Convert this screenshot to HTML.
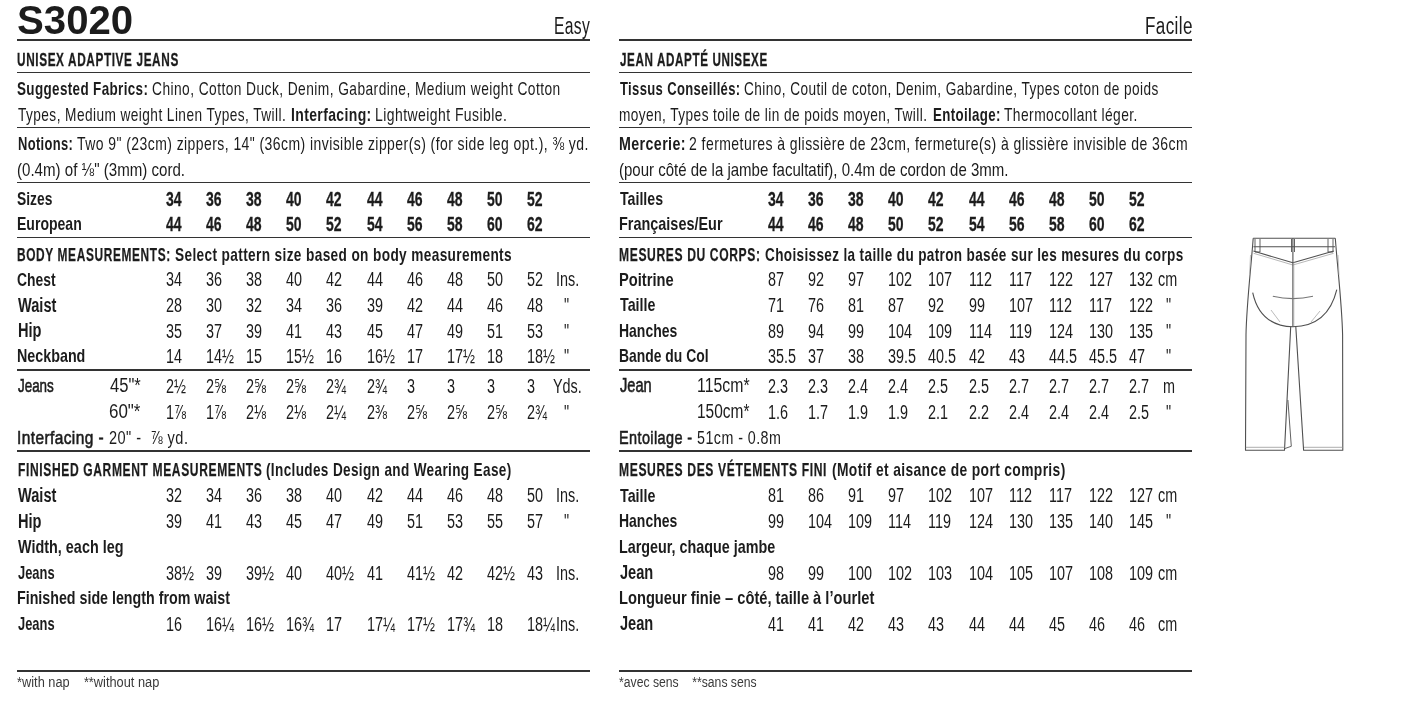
<!DOCTYPE html>
<html><head><meta charset="utf-8"><style>
html,body{margin:0;padding:0;background:#fff;}
body{width:1407px;height:705px;position:relative;overflow:hidden;}
#w{position:absolute;left:0;top:0;width:1407px;height:705px;will-change:transform;}
.t{position:absolute;white-space:pre;font-family:"Liberation Sans",sans-serif;color:#1c1c1c;transform-origin:0 0;}
.t b{font-weight:bold;}
.t .m{-webkit-text-stroke:0.6px currentColor;}
.l{position:absolute;}
.f{}
</style></head><body><div id="w">
<div class="l" style="left:17px;top:39.20px;width:573px;height:1.6px;background:#333"></div>
<div class="t" id="r0" style="left:17.38px;top:49.92px;font-size:19.0px;line-height:19.0px;transform:scaleX(0.6201);font-weight:bold;letter-spacing:1px;-webkit-text-stroke:0.3px currentColor;">UNISEX ADAPTIVE JEANS</div>
<div class="l" style="left:17px;top:71.50px;width:573px;height:1.6px;background:#333"></div>
<div class="t" id="r1" style="left:17.49px;top:78.92px;font-size:19.0px;line-height:19.0px;transform:scaleX(0.7082);font-weight:bold;letter-spacing:0.5px;">Suggested Fabrics:</div>
<div class="t" id="r2" style="left:152.08px;top:78.92px;font-size:19.0px;line-height:19.0px;transform:scaleX(0.7246);letter-spacing:0.6px;">Chino, Cotton Duck, Denim, Gabardine, Medium weight Cotton</div>
<div class="t" id="r3" style="left:18.00px;top:105.32px;font-size:19.0px;line-height:19.0px;transform:scaleX(0.7194);letter-spacing:0.6px;">Types, Medium weight Linen Types, Twill.</div>
<div class="t" id="r4" style="left:290.96px;top:105.32px;font-size:19.0px;line-height:19.0px;transform:scaleX(0.7368);font-weight:bold;letter-spacing:0.5px;">Interfacing:</div>
<div class="t" id="r5" style="left:375.06px;top:105.32px;font-size:19.0px;line-height:19.0px;transform:scaleX(0.7356);letter-spacing:0.6px;">Lightweight Fusible.</div>
<div class="l" style="left:17px;top:126.50px;width:573px;height:1.6px;background:#333"></div>
<div class="t" id="r6" style="left:17.52px;top:134.32px;font-size:19.0px;line-height:19.0px;transform:scaleX(0.6808);font-weight:bold;letter-spacing:0.5px;">Notions:</div>
<div class="t" id="r7" style="left:77.20px;top:134.32px;font-size:19.0px;line-height:19.0px;transform:scaleX(0.7352);letter-spacing:0.6px;">Two 9" (23cm) zippers, 14" (36cm) invisible zipper(s) (for side leg opt.), <span class="f">⅜</span> yd.</div>
<div class="t" id="r8" style="left:17.21px;top:160.22px;font-size:19.0px;line-height:19.0px;transform:scaleX(0.7943);">(0.4m) of <span class="f">⅛</span>" (3mm) cord.</div>
<div class="l" style="left:17px;top:181.70px;width:573px;height:1.6px;background:#333"></div>
<div class="t" id="r9" style="left:17.27px;top:188.92px;font-size:19.0px;line-height:19.0px;transform:scaleX(0.7277);font-weight:bold;">Sizes</div>
<div class="t" id="r10" style="left:166.00px;top:188.77px;font-size:20.0px;line-height:20.0px;transform:scaleX(0.7);font-weight:bold;-webkit-text-stroke:0.3px currentColor;">34</div>
<div class="t" id="r11" style="left:206.10px;top:188.77px;font-size:20.0px;line-height:20.0px;transform:scaleX(0.7);font-weight:bold;-webkit-text-stroke:0.3px currentColor;">36</div>
<div class="t" id="r12" style="left:246.20px;top:188.77px;font-size:20.0px;line-height:20.0px;transform:scaleX(0.7);font-weight:bold;-webkit-text-stroke:0.3px currentColor;">38</div>
<div class="t" id="r13" style="left:286.30px;top:188.77px;font-size:20.0px;line-height:20.0px;transform:scaleX(0.7);font-weight:bold;-webkit-text-stroke:0.3px currentColor;">40</div>
<div class="t" id="r14" style="left:326.40px;top:188.77px;font-size:20.0px;line-height:20.0px;transform:scaleX(0.7);font-weight:bold;-webkit-text-stroke:0.3px currentColor;">42</div>
<div class="t" id="r15" style="left:366.50px;top:188.77px;font-size:20.0px;line-height:20.0px;transform:scaleX(0.7);font-weight:bold;-webkit-text-stroke:0.3px currentColor;">44</div>
<div class="t" id="r16" style="left:406.60px;top:188.77px;font-size:20.0px;line-height:20.0px;transform:scaleX(0.7);font-weight:bold;-webkit-text-stroke:0.3px currentColor;">46</div>
<div class="t" id="r17" style="left:446.70px;top:188.77px;font-size:20.0px;line-height:20.0px;transform:scaleX(0.7);font-weight:bold;-webkit-text-stroke:0.3px currentColor;">48</div>
<div class="t" id="r18" style="left:486.80px;top:188.77px;font-size:20.0px;line-height:20.0px;transform:scaleX(0.7);font-weight:bold;-webkit-text-stroke:0.3px currentColor;">50</div>
<div class="t" id="r19" style="left:526.90px;top:188.77px;font-size:20.0px;line-height:20.0px;transform:scaleX(0.7);font-weight:bold;-webkit-text-stroke:0.3px currentColor;">52</div>
<div class="t" id="r20" style="left:17.26px;top:214.42px;font-size:19.0px;line-height:19.0px;transform:scaleX(0.7384);font-weight:bold;">European</div>
<div class="t" id="r21" style="left:166.00px;top:214.27px;font-size:20.0px;line-height:20.0px;transform:scaleX(0.7);font-weight:bold;-webkit-text-stroke:0.3px currentColor;">44</div>
<div class="t" id="r22" style="left:206.10px;top:214.27px;font-size:20.0px;line-height:20.0px;transform:scaleX(0.7);font-weight:bold;-webkit-text-stroke:0.3px currentColor;">46</div>
<div class="t" id="r23" style="left:246.20px;top:214.27px;font-size:20.0px;line-height:20.0px;transform:scaleX(0.7);font-weight:bold;-webkit-text-stroke:0.3px currentColor;">48</div>
<div class="t" id="r24" style="left:286.30px;top:214.27px;font-size:20.0px;line-height:20.0px;transform:scaleX(0.7);font-weight:bold;-webkit-text-stroke:0.3px currentColor;">50</div>
<div class="t" id="r25" style="left:326.40px;top:214.27px;font-size:20.0px;line-height:20.0px;transform:scaleX(0.7);font-weight:bold;-webkit-text-stroke:0.3px currentColor;">52</div>
<div class="t" id="r26" style="left:366.50px;top:214.27px;font-size:20.0px;line-height:20.0px;transform:scaleX(0.7);font-weight:bold;-webkit-text-stroke:0.3px currentColor;">54</div>
<div class="t" id="r27" style="left:406.60px;top:214.27px;font-size:20.0px;line-height:20.0px;transform:scaleX(0.7);font-weight:bold;-webkit-text-stroke:0.3px currentColor;">56</div>
<div class="t" id="r28" style="left:446.70px;top:214.27px;font-size:20.0px;line-height:20.0px;transform:scaleX(0.7);font-weight:bold;-webkit-text-stroke:0.3px currentColor;">58</div>
<div class="t" id="r29" style="left:486.80px;top:214.27px;font-size:20.0px;line-height:20.0px;transform:scaleX(0.7);font-weight:bold;-webkit-text-stroke:0.3px currentColor;">60</div>
<div class="t" id="r30" style="left:526.90px;top:214.27px;font-size:20.0px;line-height:20.0px;transform:scaleX(0.7);font-weight:bold;-webkit-text-stroke:0.3px currentColor;">62</div>
<div class="l" style="left:17px;top:236.70px;width:573px;height:1.6px;background:#333"></div>
<div class="t" id="r31" style="left:17.37px;top:244.82px;font-size:19.0px;line-height:19.0px;transform:scaleX(0.626);font-weight:bold;letter-spacing:1px;-webkit-text-stroke:0.25px currentColor;">BODY MEASUREMENTS:</div>
<div class="t" id="r32" style="left:175.18px;top:244.82px;font-size:19.0px;line-height:19.0px;transform:scaleX(0.7191);font-weight:bold;letter-spacing:0.5px;">Select pattern size based on body measurements</div>
<div class="t" id="r33" style="left:17.27px;top:269.52px;font-size:19.0px;line-height:19.0px;transform:scaleX(0.7308);font-weight:bold;">Chest</div>
<div class="t" id="r34" style="left:166.00px;top:269.37px;font-size:20.0px;line-height:20.0px;transform:scaleX(0.72);">34</div>
<div class="t" id="r35" style="left:206.10px;top:269.37px;font-size:20.0px;line-height:20.0px;transform:scaleX(0.72);">36</div>
<div class="t" id="r36" style="left:246.20px;top:269.37px;font-size:20.0px;line-height:20.0px;transform:scaleX(0.72);">38</div>
<div class="t" id="r37" style="left:286.30px;top:269.37px;font-size:20.0px;line-height:20.0px;transform:scaleX(0.72);">40</div>
<div class="t" id="r38" style="left:326.40px;top:269.37px;font-size:20.0px;line-height:20.0px;transform:scaleX(0.72);">42</div>
<div class="t" id="r39" style="left:366.50px;top:269.37px;font-size:20.0px;line-height:20.0px;transform:scaleX(0.72);">44</div>
<div class="t" id="r40" style="left:406.60px;top:269.37px;font-size:20.0px;line-height:20.0px;transform:scaleX(0.72);">46</div>
<div class="t" id="r41" style="left:446.70px;top:269.37px;font-size:20.0px;line-height:20.0px;transform:scaleX(0.72);">48</div>
<div class="t" id="r42" style="left:486.80px;top:269.37px;font-size:20.0px;line-height:20.0px;transform:scaleX(0.72);">50</div>
<div class="t" id="r43" style="left:526.90px;top:269.37px;font-size:20.0px;line-height:20.0px;transform:scaleX(0.72);">52</div>
<div class="t" id="r44" style="left:555.50px;top:269.37px;font-size:20.0px;line-height:20.0px;transform:scaleX(0.72);">Ins.</div>
<div class="t" id="r45" style="left:17.50px;top:294.57px;font-size:20.0px;line-height:20.0px;transform:scaleX(0.73);font-weight:bold;">Waist</div>
<div class="t" id="r46" style="left:166.00px;top:295.27px;font-size:20.0px;line-height:20.0px;transform:scaleX(0.72);">28</div>
<div class="t" id="r47" style="left:206.10px;top:295.27px;font-size:20.0px;line-height:20.0px;transform:scaleX(0.72);">30</div>
<div class="t" id="r48" style="left:246.20px;top:295.27px;font-size:20.0px;line-height:20.0px;transform:scaleX(0.72);">32</div>
<div class="t" id="r49" style="left:286.30px;top:295.27px;font-size:20.0px;line-height:20.0px;transform:scaleX(0.72);">34</div>
<div class="t" id="r50" style="left:326.40px;top:295.27px;font-size:20.0px;line-height:20.0px;transform:scaleX(0.72);">36</div>
<div class="t" id="r51" style="left:366.50px;top:295.27px;font-size:20.0px;line-height:20.0px;transform:scaleX(0.72);">39</div>
<div class="t" id="r52" style="left:406.60px;top:295.27px;font-size:20.0px;line-height:20.0px;transform:scaleX(0.72);">42</div>
<div class="t" id="r53" style="left:446.70px;top:295.27px;font-size:20.0px;line-height:20.0px;transform:scaleX(0.72);">44</div>
<div class="t" id="r54" style="left:486.80px;top:295.27px;font-size:20.0px;line-height:20.0px;transform:scaleX(0.72);">46</div>
<div class="t" id="r55" style="left:526.90px;top:295.27px;font-size:20.0px;line-height:20.0px;transform:scaleX(0.72);">48</div>
<div class="t" id="r56" style="left:564.00px;top:295.27px;font-size:20.0px;line-height:20.0px;transform:scaleX(0.72);">"</div>
<div class="t" id="r57" style="left:17.50px;top:320.37px;font-size:20.0px;line-height:20.0px;transform:scaleX(0.73);font-weight:bold;">Hip</div>
<div class="t" id="r58" style="left:166.00px;top:321.07px;font-size:20.0px;line-height:20.0px;transform:scaleX(0.72);">35</div>
<div class="t" id="r59" style="left:206.10px;top:321.07px;font-size:20.0px;line-height:20.0px;transform:scaleX(0.72);">37</div>
<div class="t" id="r60" style="left:246.20px;top:321.07px;font-size:20.0px;line-height:20.0px;transform:scaleX(0.72);">39</div>
<div class="t" id="r61" style="left:286.30px;top:321.07px;font-size:20.0px;line-height:20.0px;transform:scaleX(0.72);">41</div>
<div class="t" id="r62" style="left:326.40px;top:321.07px;font-size:20.0px;line-height:20.0px;transform:scaleX(0.72);">43</div>
<div class="t" id="r63" style="left:366.50px;top:321.07px;font-size:20.0px;line-height:20.0px;transform:scaleX(0.72);">45</div>
<div class="t" id="r64" style="left:406.60px;top:321.07px;font-size:20.0px;line-height:20.0px;transform:scaleX(0.72);">47</div>
<div class="t" id="r65" style="left:446.70px;top:321.07px;font-size:20.0px;line-height:20.0px;transform:scaleX(0.72);">49</div>
<div class="t" id="r66" style="left:486.80px;top:321.07px;font-size:20.0px;line-height:20.0px;transform:scaleX(0.72);">51</div>
<div class="t" id="r67" style="left:526.90px;top:321.07px;font-size:20.0px;line-height:20.0px;transform:scaleX(0.72);">53</div>
<div class="t" id="r68" style="left:564.00px;top:321.07px;font-size:20.0px;line-height:20.0px;transform:scaleX(0.72);">"</div>
<div class="t" id="r69" style="left:17.25px;top:346.42px;font-size:19.0px;line-height:19.0px;transform:scaleX(0.7528);font-weight:bold;">Neckband</div>
<div class="t" id="r70" style="left:166.00px;top:346.27px;font-size:20.0px;line-height:20.0px;transform:scaleX(0.72);">14</div>
<div class="t" id="r71" style="left:206.10px;top:346.27px;font-size:20.0px;line-height:20.0px;transform:scaleX(0.72);">14<span class="f">½</span></div>
<div class="t" id="r72" style="left:246.20px;top:346.27px;font-size:20.0px;line-height:20.0px;transform:scaleX(0.72);">15</div>
<div class="t" id="r73" style="left:286.30px;top:346.27px;font-size:20.0px;line-height:20.0px;transform:scaleX(0.72);">15<span class="f">½</span></div>
<div class="t" id="r74" style="left:326.40px;top:346.27px;font-size:20.0px;line-height:20.0px;transform:scaleX(0.72);">16</div>
<div class="t" id="r75" style="left:366.50px;top:346.27px;font-size:20.0px;line-height:20.0px;transform:scaleX(0.72);">16<span class="f">½</span></div>
<div class="t" id="r76" style="left:406.60px;top:346.27px;font-size:20.0px;line-height:20.0px;transform:scaleX(0.72);">17</div>
<div class="t" id="r77" style="left:446.70px;top:346.27px;font-size:20.0px;line-height:20.0px;transform:scaleX(0.72);">17<span class="f">½</span></div>
<div class="t" id="r78" style="left:486.80px;top:346.27px;font-size:20.0px;line-height:20.0px;transform:scaleX(0.72);">18</div>
<div class="t" id="r79" style="left:526.90px;top:346.27px;font-size:20.0px;line-height:20.0px;transform:scaleX(0.72);">18<span class="f">½</span></div>
<div class="t" id="r80" style="left:564.00px;top:346.27px;font-size:20.0px;line-height:20.0px;transform:scaleX(0.72);">"</div>
<div class="l" style="left:17px;top:369.40px;width:573px;height:1.6px;background:#333"></div>
<div class="t" id="r81" style="left:18.00px;top:376.12px;font-size:19.0px;line-height:19.0px;transform:scaleX(0.7059);-webkit-text-stroke:0.6px currentColor;">Jeans</div>
<div class="t" id="r82" style="left:110.00px;top:375.27px;font-size:20.0px;line-height:20.0px;transform:scaleX(0.8297);">45"*</div>
<div class="t" id="r83" style="left:166.00px;top:375.97px;font-size:20.0px;line-height:20.0px;transform:scaleX(0.72);">2<span class="f">½</span></div>
<div class="t" id="r84" style="left:206.10px;top:375.97px;font-size:20.0px;line-height:20.0px;transform:scaleX(0.72);">2<span class="f">⅝</span></div>
<div class="t" id="r85" style="left:246.20px;top:375.97px;font-size:20.0px;line-height:20.0px;transform:scaleX(0.72);">2<span class="f">⅝</span></div>
<div class="t" id="r86" style="left:286.30px;top:375.97px;font-size:20.0px;line-height:20.0px;transform:scaleX(0.72);">2<span class="f">⅝</span></div>
<div class="t" id="r87" style="left:326.40px;top:375.97px;font-size:20.0px;line-height:20.0px;transform:scaleX(0.72);">2<span class="f">¾</span></div>
<div class="t" id="r88" style="left:366.50px;top:375.97px;font-size:20.0px;line-height:20.0px;transform:scaleX(0.72);">2<span class="f">¾</span></div>
<div class="t" id="r89" style="left:406.60px;top:375.97px;font-size:20.0px;line-height:20.0px;transform:scaleX(0.72);">3</div>
<div class="t" id="r90" style="left:446.70px;top:375.97px;font-size:20.0px;line-height:20.0px;transform:scaleX(0.72);">3</div>
<div class="t" id="r91" style="left:486.80px;top:375.97px;font-size:20.0px;line-height:20.0px;transform:scaleX(0.72);">3</div>
<div class="t" id="r92" style="left:526.90px;top:375.97px;font-size:20.0px;line-height:20.0px;transform:scaleX(0.72);">3</div>
<div class="t" id="r93" style="left:552.50px;top:375.97px;font-size:20.0px;line-height:20.0px;transform:scaleX(0.72);">Yds.</div>
<div class="t" id="r94" style="left:109.15px;top:401.07px;font-size:20.0px;line-height:20.0px;transform:scaleX(0.8472);">60"*</div>
<div class="t" id="r95" style="left:166.00px;top:401.77px;font-size:20.0px;line-height:20.0px;transform:scaleX(0.72);">1<span class="f">⅞</span></div>
<div class="t" id="r96" style="left:206.10px;top:401.77px;font-size:20.0px;line-height:20.0px;transform:scaleX(0.72);">1<span class="f">⅞</span></div>
<div class="t" id="r97" style="left:246.20px;top:401.77px;font-size:20.0px;line-height:20.0px;transform:scaleX(0.72);">2<span class="f">⅛</span></div>
<div class="t" id="r98" style="left:286.30px;top:401.77px;font-size:20.0px;line-height:20.0px;transform:scaleX(0.72);">2<span class="f">⅛</span></div>
<div class="t" id="r99" style="left:326.40px;top:401.77px;font-size:20.0px;line-height:20.0px;transform:scaleX(0.72);">2<span class="f">¼</span></div>
<div class="t" id="r100" style="left:366.50px;top:401.77px;font-size:20.0px;line-height:20.0px;transform:scaleX(0.72);">2<span class="f">⅜</span></div>
<div class="t" id="r101" style="left:406.60px;top:401.77px;font-size:20.0px;line-height:20.0px;transform:scaleX(0.72);">2<span class="f">⅝</span></div>
<div class="t" id="r102" style="left:446.70px;top:401.77px;font-size:20.0px;line-height:20.0px;transform:scaleX(0.72);">2<span class="f">⅝</span></div>
<div class="t" id="r103" style="left:486.80px;top:401.77px;font-size:20.0px;line-height:20.0px;transform:scaleX(0.72);">2<span class="f">⅝</span></div>
<div class="t" id="r104" style="left:526.90px;top:401.77px;font-size:20.0px;line-height:20.0px;transform:scaleX(0.72);">2<span class="f">¾</span></div>
<div class="t" id="r105" style="left:564.00px;top:401.77px;font-size:20.0px;line-height:20.0px;transform:scaleX(0.72);">"</div>
<div class="t" id="r106" style="left:17.19px;top:427.92px;font-size:19.0px;line-height:19.0px;transform:scaleX(0.8143);-webkit-text-stroke:0.6px currentColor;letter-spacing:0.5px;">Interfacing -</div>
<div class="t" id="r107" style="left:109.23px;top:427.92px;font-size:19.0px;line-height:19.0px;transform:scaleX(0.7653);letter-spacing:0.6px;">20" -  <span class="f">⅞</span> yd.</div>
<div class="l" style="left:17px;top:450.20px;width:573px;height:1.6px;background:#333"></div>
<div class="t" id="r108" style="left:17.67px;top:460.02px;font-size:19.0px;line-height:19.0px;transform:scaleX(0.6337);font-weight:bold;letter-spacing:1px;-webkit-text-stroke:0.25px currentColor;">FINISHED GARMENT MEASUREMENTS</div>
<div class="t" id="r109" style="left:265.99px;top:460.02px;font-size:19.0px;line-height:19.0px;transform:scaleX(0.714);font-weight:bold;letter-spacing:0.5px;">(Includes Design and Wearing Ease)</div>
<div class="t" id="r110" style="left:17.50px;top:484.67px;font-size:20.0px;line-height:20.0px;transform:scaleX(0.73);font-weight:bold;">Waist</div>
<div class="t" id="r111" style="left:166.00px;top:485.37px;font-size:20.0px;line-height:20.0px;transform:scaleX(0.72);">32</div>
<div class="t" id="r112" style="left:206.10px;top:485.37px;font-size:20.0px;line-height:20.0px;transform:scaleX(0.72);">34</div>
<div class="t" id="r113" style="left:246.20px;top:485.37px;font-size:20.0px;line-height:20.0px;transform:scaleX(0.72);">36</div>
<div class="t" id="r114" style="left:286.30px;top:485.37px;font-size:20.0px;line-height:20.0px;transform:scaleX(0.72);">38</div>
<div class="t" id="r115" style="left:326.40px;top:485.37px;font-size:20.0px;line-height:20.0px;transform:scaleX(0.72);">40</div>
<div class="t" id="r116" style="left:366.50px;top:485.37px;font-size:20.0px;line-height:20.0px;transform:scaleX(0.72);">42</div>
<div class="t" id="r117" style="left:406.60px;top:485.37px;font-size:20.0px;line-height:20.0px;transform:scaleX(0.72);">44</div>
<div class="t" id="r118" style="left:446.70px;top:485.37px;font-size:20.0px;line-height:20.0px;transform:scaleX(0.72);">46</div>
<div class="t" id="r119" style="left:486.80px;top:485.37px;font-size:20.0px;line-height:20.0px;transform:scaleX(0.72);">48</div>
<div class="t" id="r120" style="left:526.90px;top:485.37px;font-size:20.0px;line-height:20.0px;transform:scaleX(0.72);">50</div>
<div class="t" id="r121" style="left:555.50px;top:485.37px;font-size:20.0px;line-height:20.0px;transform:scaleX(0.72);">Ins.</div>
<div class="t" id="r122" style="left:17.50px;top:510.57px;font-size:20.0px;line-height:20.0px;transform:scaleX(0.73);font-weight:bold;">Hip</div>
<div class="t" id="r123" style="left:166.00px;top:511.27px;font-size:20.0px;line-height:20.0px;transform:scaleX(0.72);">39</div>
<div class="t" id="r124" style="left:206.10px;top:511.27px;font-size:20.0px;line-height:20.0px;transform:scaleX(0.72);">41</div>
<div class="t" id="r125" style="left:246.20px;top:511.27px;font-size:20.0px;line-height:20.0px;transform:scaleX(0.72);">43</div>
<div class="t" id="r126" style="left:286.30px;top:511.27px;font-size:20.0px;line-height:20.0px;transform:scaleX(0.72);">45</div>
<div class="t" id="r127" style="left:326.40px;top:511.27px;font-size:20.0px;line-height:20.0px;transform:scaleX(0.72);">47</div>
<div class="t" id="r128" style="left:366.50px;top:511.27px;font-size:20.0px;line-height:20.0px;transform:scaleX(0.72);">49</div>
<div class="t" id="r129" style="left:406.60px;top:511.27px;font-size:20.0px;line-height:20.0px;transform:scaleX(0.72);">51</div>
<div class="t" id="r130" style="left:446.70px;top:511.27px;font-size:20.0px;line-height:20.0px;transform:scaleX(0.72);">53</div>
<div class="t" id="r131" style="left:486.80px;top:511.27px;font-size:20.0px;line-height:20.0px;transform:scaleX(0.72);">55</div>
<div class="t" id="r132" style="left:526.90px;top:511.27px;font-size:20.0px;line-height:20.0px;transform:scaleX(0.72);">57</div>
<div class="t" id="r133" style="left:564.00px;top:511.27px;font-size:20.0px;line-height:20.0px;transform:scaleX(0.72);">"</div>
<div class="t" id="r134" style="left:18.00px;top:536.92px;font-size:19.0px;line-height:19.0px;transform:scaleX(0.758);font-weight:bold;">Width, each leg</div>
<div class="t" id="r135" style="left:18.00px;top:562.92px;font-size:19.0px;line-height:19.0px;transform:scaleX(0.6792);font-weight:bold;">Jeans</div>
<div class="t" id="r136" style="left:166.00px;top:562.77px;font-size:20.0px;line-height:20.0px;transform:scaleX(0.72);">38<span class="f">½</span></div>
<div class="t" id="r137" style="left:206.10px;top:562.77px;font-size:20.0px;line-height:20.0px;transform:scaleX(0.72);">39</div>
<div class="t" id="r138" style="left:246.20px;top:562.77px;font-size:20.0px;line-height:20.0px;transform:scaleX(0.72);">39<span class="f">½</span></div>
<div class="t" id="r139" style="left:286.30px;top:562.77px;font-size:20.0px;line-height:20.0px;transform:scaleX(0.72);">40</div>
<div class="t" id="r140" style="left:326.40px;top:562.77px;font-size:20.0px;line-height:20.0px;transform:scaleX(0.72);">40<span class="f">½</span></div>
<div class="t" id="r141" style="left:366.50px;top:562.77px;font-size:20.0px;line-height:20.0px;transform:scaleX(0.72);">41</div>
<div class="t" id="r142" style="left:406.60px;top:562.77px;font-size:20.0px;line-height:20.0px;transform:scaleX(0.72);">41<span class="f">½</span></div>
<div class="t" id="r143" style="left:446.70px;top:562.77px;font-size:20.0px;line-height:20.0px;transform:scaleX(0.72);">42</div>
<div class="t" id="r144" style="left:486.80px;top:562.77px;font-size:20.0px;line-height:20.0px;transform:scaleX(0.72);">42<span class="f">½</span></div>
<div class="t" id="r145" style="left:526.90px;top:562.77px;font-size:20.0px;line-height:20.0px;transform:scaleX(0.72);">43</div>
<div class="t" id="r146" style="left:555.50px;top:562.77px;font-size:20.0px;line-height:20.0px;transform:scaleX(0.72);">Ins.</div>
<div class="t" id="r147" style="left:17.25px;top:587.92px;font-size:19.0px;line-height:19.0px;transform:scaleX(0.7498);font-weight:bold;">Finished side length from waist</div>
<div class="t" id="r148" style="left:18.00px;top:613.92px;font-size:19.0px;line-height:19.0px;transform:scaleX(0.6792);font-weight:bold;">Jeans</div>
<div class="t" id="r149" style="left:166.00px;top:613.77px;font-size:20.0px;line-height:20.0px;transform:scaleX(0.72);">16</div>
<div class="t" id="r150" style="left:206.10px;top:613.77px;font-size:20.0px;line-height:20.0px;transform:scaleX(0.72);">16<span class="f">¼</span></div>
<div class="t" id="r151" style="left:246.20px;top:613.77px;font-size:20.0px;line-height:20.0px;transform:scaleX(0.72);">16<span class="f">½</span></div>
<div class="t" id="r152" style="left:286.30px;top:613.77px;font-size:20.0px;line-height:20.0px;transform:scaleX(0.72);">16<span class="f">¾</span></div>
<div class="t" id="r153" style="left:326.40px;top:613.77px;font-size:20.0px;line-height:20.0px;transform:scaleX(0.72);">17</div>
<div class="t" id="r154" style="left:366.50px;top:613.77px;font-size:20.0px;line-height:20.0px;transform:scaleX(0.72);">17<span class="f">¼</span></div>
<div class="t" id="r155" style="left:406.60px;top:613.77px;font-size:20.0px;line-height:20.0px;transform:scaleX(0.72);">17<span class="f">½</span></div>
<div class="t" id="r156" style="left:446.70px;top:613.77px;font-size:20.0px;line-height:20.0px;transform:scaleX(0.72);">17<span class="f">¾</span></div>
<div class="t" id="r157" style="left:486.80px;top:613.77px;font-size:20.0px;line-height:20.0px;transform:scaleX(0.72);">18</div>
<div class="t" id="r158" style="left:526.90px;top:613.77px;font-size:20.0px;line-height:20.0px;transform:scaleX(0.72);">18<span class="f">¼</span></div>
<div class="t" id="r159" style="left:556.00px;top:613.77px;font-size:20.0px;line-height:20.0px;transform:scaleX(0.72);">Ins.</div>
<div class="l" style="left:17px;top:670.20px;width:573px;height:1.6px;background:#333"></div>
<div class="t" id="r160" style="left:17.09px;top:675.15px;font-size:14px;line-height:14px;transform:scaleX(0.9143);color:#3a3a3a;">*with nap &nbsp;&nbsp;&nbsp;**without nap</div>
<div class="l" style="left:619px;top:39.20px;width:573px;height:1.6px;background:#333"></div>
<div class="t" id="r161" style="left:620.00px;top:49.92px;font-size:19.0px;line-height:19.0px;transform:scaleX(0.6133);font-weight:bold;letter-spacing:1px;-webkit-text-stroke:0.3px currentColor;">JEAN ADAPTÉ UNISEXE</div>
<div class="l" style="left:619px;top:71.50px;width:573px;height:1.6px;background:#333"></div>
<div class="t" id="r162" style="left:620.00px;top:78.92px;font-size:19.0px;line-height:19.0px;transform:scaleX(0.6867);font-weight:bold;letter-spacing:0.5px;">Tissus Conseillés:</div>
<div class="t" id="r163" style="left:743.68px;top:78.92px;font-size:19.0px;line-height:19.0px;transform:scaleX(0.7166);letter-spacing:0.6px;">Chino, Coutil de coton, Denim, Gabardine, Types coton de poids</div>
<div class="t" id="r164" style="left:619.28px;top:105.32px;font-size:19.0px;line-height:19.0px;transform:scaleX(0.7183);letter-spacing:0.6px;">moyen, Types toile de lin de poids moyen, Twill.</div>
<div class="t" id="r165" style="left:932.60px;top:105.32px;font-size:19.0px;line-height:19.0px;transform:scaleX(0.6989);font-weight:bold;letter-spacing:0.5px;">Entoilage:</div>
<div class="t" id="r166" style="left:1003.90px;top:105.32px;font-size:19.0px;line-height:19.0px;transform:scaleX(0.7269);letter-spacing:0.6px;">Thermocollant léger.</div>
<div class="l" style="left:619px;top:126.50px;width:573px;height:1.6px;background:#333"></div>
<div class="t" id="r167" style="left:619.25px;top:134.32px;font-size:19.0px;line-height:19.0px;transform:scaleX(0.7512);font-weight:bold;letter-spacing:0.5px;">Mercerie:</div>
<div class="t" id="r168" style="left:688.86px;top:134.32px;font-size:19.0px;line-height:19.0px;transform:scaleX(0.7372);letter-spacing:0.6px;">2 fermetures à glissière de 23cm, fermeture(s) à glissière invisible de 36cm</div>
<div class="t" id="r169" style="left:619.21px;top:160.22px;font-size:19.0px;line-height:19.0px;transform:scaleX(0.7896);">(pour côté de la jambe facultatif), 0.4m de cordon de 3mm.</div>
<div class="l" style="left:619px;top:181.70px;width:573px;height:1.6px;background:#333"></div>
<div class="t" id="r170" style="left:620.00px;top:188.92px;font-size:19.0px;line-height:19.0px;transform:scaleX(0.7456);font-weight:bold;">Tailles</div>
<div class="t" id="r171" style="left:768.00px;top:188.77px;font-size:20.0px;line-height:20.0px;transform:scaleX(0.7);font-weight:bold;-webkit-text-stroke:0.3px currentColor;">34</div>
<div class="t" id="r172" style="left:808.10px;top:188.77px;font-size:20.0px;line-height:20.0px;transform:scaleX(0.7);font-weight:bold;-webkit-text-stroke:0.3px currentColor;">36</div>
<div class="t" id="r173" style="left:848.20px;top:188.77px;font-size:20.0px;line-height:20.0px;transform:scaleX(0.7);font-weight:bold;-webkit-text-stroke:0.3px currentColor;">38</div>
<div class="t" id="r174" style="left:888.30px;top:188.77px;font-size:20.0px;line-height:20.0px;transform:scaleX(0.7);font-weight:bold;-webkit-text-stroke:0.3px currentColor;">40</div>
<div class="t" id="r175" style="left:928.40px;top:188.77px;font-size:20.0px;line-height:20.0px;transform:scaleX(0.7);font-weight:bold;-webkit-text-stroke:0.3px currentColor;">42</div>
<div class="t" id="r176" style="left:968.50px;top:188.77px;font-size:20.0px;line-height:20.0px;transform:scaleX(0.7);font-weight:bold;-webkit-text-stroke:0.3px currentColor;">44</div>
<div class="t" id="r177" style="left:1008.60px;top:188.77px;font-size:20.0px;line-height:20.0px;transform:scaleX(0.7);font-weight:bold;-webkit-text-stroke:0.3px currentColor;">46</div>
<div class="t" id="r178" style="left:1048.70px;top:188.77px;font-size:20.0px;line-height:20.0px;transform:scaleX(0.7);font-weight:bold;-webkit-text-stroke:0.3px currentColor;">48</div>
<div class="t" id="r179" style="left:1088.80px;top:188.77px;font-size:20.0px;line-height:20.0px;transform:scaleX(0.7);font-weight:bold;-webkit-text-stroke:0.3px currentColor;">50</div>
<div class="t" id="r180" style="left:1128.90px;top:188.77px;font-size:20.0px;line-height:20.0px;transform:scaleX(0.7);font-weight:bold;-webkit-text-stroke:0.3px currentColor;">52</div>
<div class="t" id="r181" style="left:619.24px;top:214.42px;font-size:19.0px;line-height:19.0px;transform:scaleX(0.76);font-weight:bold;">Françaises/Eur</div>
<div class="t" id="r182" style="left:768.00px;top:214.27px;font-size:20.0px;line-height:20.0px;transform:scaleX(0.7);font-weight:bold;-webkit-text-stroke:0.3px currentColor;">44</div>
<div class="t" id="r183" style="left:808.10px;top:214.27px;font-size:20.0px;line-height:20.0px;transform:scaleX(0.7);font-weight:bold;-webkit-text-stroke:0.3px currentColor;">46</div>
<div class="t" id="r184" style="left:848.20px;top:214.27px;font-size:20.0px;line-height:20.0px;transform:scaleX(0.7);font-weight:bold;-webkit-text-stroke:0.3px currentColor;">48</div>
<div class="t" id="r185" style="left:888.30px;top:214.27px;font-size:20.0px;line-height:20.0px;transform:scaleX(0.7);font-weight:bold;-webkit-text-stroke:0.3px currentColor;">50</div>
<div class="t" id="r186" style="left:928.40px;top:214.27px;font-size:20.0px;line-height:20.0px;transform:scaleX(0.7);font-weight:bold;-webkit-text-stroke:0.3px currentColor;">52</div>
<div class="t" id="r187" style="left:968.50px;top:214.27px;font-size:20.0px;line-height:20.0px;transform:scaleX(0.7);font-weight:bold;-webkit-text-stroke:0.3px currentColor;">54</div>
<div class="t" id="r188" style="left:1008.60px;top:214.27px;font-size:20.0px;line-height:20.0px;transform:scaleX(0.7);font-weight:bold;-webkit-text-stroke:0.3px currentColor;">56</div>
<div class="t" id="r189" style="left:1048.70px;top:214.27px;font-size:20.0px;line-height:20.0px;transform:scaleX(0.7);font-weight:bold;-webkit-text-stroke:0.3px currentColor;">58</div>
<div class="t" id="r190" style="left:1088.80px;top:214.27px;font-size:20.0px;line-height:20.0px;transform:scaleX(0.7);font-weight:bold;-webkit-text-stroke:0.3px currentColor;">60</div>
<div class="t" id="r191" style="left:1128.90px;top:214.27px;font-size:20.0px;line-height:20.0px;transform:scaleX(0.7);font-weight:bold;-webkit-text-stroke:0.3px currentColor;">62</div>
<div class="l" style="left:619px;top:236.70px;width:573px;height:1.6px;background:#333"></div>
<div class="t" id="r192" style="left:619.36px;top:244.82px;font-size:19.0px;line-height:19.0px;transform:scaleX(0.6356);font-weight:bold;letter-spacing:1px;-webkit-text-stroke:0.25px currentColor;">MESURES DU CORPS:</div>
<div class="t" id="r193" style="left:764.59px;top:244.82px;font-size:19.0px;line-height:19.0px;transform:scaleX(0.7132);font-weight:bold;letter-spacing:0.5px;">Choisissez la taille du patron basée sur les mesures du corps</div>
<div class="t" id="r194" style="left:619.23px;top:269.52px;font-size:19.0px;line-height:19.0px;transform:scaleX(0.7725);font-weight:bold;">Poitrine</div>
<div class="t" id="r195" style="left:768.00px;top:269.37px;font-size:20.0px;line-height:20.0px;transform:scaleX(0.72);">87</div>
<div class="t" id="r196" style="left:808.10px;top:269.37px;font-size:20.0px;line-height:20.0px;transform:scaleX(0.72);">92</div>
<div class="t" id="r197" style="left:848.20px;top:269.37px;font-size:20.0px;line-height:20.0px;transform:scaleX(0.72);">97</div>
<div class="t" id="r198" style="left:888.30px;top:269.37px;font-size:20.0px;line-height:20.0px;transform:scaleX(0.72);">102</div>
<div class="t" id="r199" style="left:928.40px;top:269.37px;font-size:20.0px;line-height:20.0px;transform:scaleX(0.72);">107</div>
<div class="t" id="r200" style="left:968.50px;top:269.37px;font-size:20.0px;line-height:20.0px;transform:scaleX(0.72);">112</div>
<div class="t" id="r201" style="left:1008.60px;top:269.37px;font-size:20.0px;line-height:20.0px;transform:scaleX(0.72);">117</div>
<div class="t" id="r202" style="left:1048.70px;top:269.37px;font-size:20.0px;line-height:20.0px;transform:scaleX(0.72);">122</div>
<div class="t" id="r203" style="left:1088.80px;top:269.37px;font-size:20.0px;line-height:20.0px;transform:scaleX(0.72);">127</div>
<div class="t" id="r204" style="left:1128.90px;top:269.37px;font-size:20.0px;line-height:20.0px;transform:scaleX(0.72);">132</div>
<div class="t" id="r205" style="left:1157.50px;top:269.37px;font-size:20.0px;line-height:20.0px;transform:scaleX(0.72);">cm</div>
<div class="t" id="r206" style="left:620.00px;top:295.42px;font-size:19.0px;line-height:19.0px;transform:scaleX(0.7511);font-weight:bold;">Taille</div>
<div class="t" id="r207" style="left:768.00px;top:295.27px;font-size:20.0px;line-height:20.0px;transform:scaleX(0.72);">71</div>
<div class="t" id="r208" style="left:808.10px;top:295.27px;font-size:20.0px;line-height:20.0px;transform:scaleX(0.72);">76</div>
<div class="t" id="r209" style="left:848.20px;top:295.27px;font-size:20.0px;line-height:20.0px;transform:scaleX(0.72);">81</div>
<div class="t" id="r210" style="left:888.30px;top:295.27px;font-size:20.0px;line-height:20.0px;transform:scaleX(0.72);">87</div>
<div class="t" id="r211" style="left:928.40px;top:295.27px;font-size:20.0px;line-height:20.0px;transform:scaleX(0.72);">92</div>
<div class="t" id="r212" style="left:968.50px;top:295.27px;font-size:20.0px;line-height:20.0px;transform:scaleX(0.72);">99</div>
<div class="t" id="r213" style="left:1008.60px;top:295.27px;font-size:20.0px;line-height:20.0px;transform:scaleX(0.72);">107</div>
<div class="t" id="r214" style="left:1048.70px;top:295.27px;font-size:20.0px;line-height:20.0px;transform:scaleX(0.72);">112</div>
<div class="t" id="r215" style="left:1088.80px;top:295.27px;font-size:20.0px;line-height:20.0px;transform:scaleX(0.72);">117</div>
<div class="t" id="r216" style="left:1128.90px;top:295.27px;font-size:20.0px;line-height:20.0px;transform:scaleX(0.72);">122</div>
<div class="t" id="r217" style="left:1166.00px;top:295.27px;font-size:20.0px;line-height:20.0px;transform:scaleX(0.72);">"</div>
<div class="t" id="r218" style="left:619.26px;top:321.22px;font-size:19.0px;line-height:19.0px;transform:scaleX(0.7359);font-weight:bold;">Hanches</div>
<div class="t" id="r219" style="left:768.00px;top:321.07px;font-size:20.0px;line-height:20.0px;transform:scaleX(0.72);">89</div>
<div class="t" id="r220" style="left:808.10px;top:321.07px;font-size:20.0px;line-height:20.0px;transform:scaleX(0.72);">94</div>
<div class="t" id="r221" style="left:848.20px;top:321.07px;font-size:20.0px;line-height:20.0px;transform:scaleX(0.72);">99</div>
<div class="t" id="r222" style="left:888.30px;top:321.07px;font-size:20.0px;line-height:20.0px;transform:scaleX(0.72);">104</div>
<div class="t" id="r223" style="left:928.40px;top:321.07px;font-size:20.0px;line-height:20.0px;transform:scaleX(0.72);">109</div>
<div class="t" id="r224" style="left:968.50px;top:321.07px;font-size:20.0px;line-height:20.0px;transform:scaleX(0.72);">114</div>
<div class="t" id="r225" style="left:1008.60px;top:321.07px;font-size:20.0px;line-height:20.0px;transform:scaleX(0.72);">119</div>
<div class="t" id="r226" style="left:1048.70px;top:321.07px;font-size:20.0px;line-height:20.0px;transform:scaleX(0.72);">124</div>
<div class="t" id="r227" style="left:1088.80px;top:321.07px;font-size:20.0px;line-height:20.0px;transform:scaleX(0.72);">130</div>
<div class="t" id="r228" style="left:1128.90px;top:321.07px;font-size:20.0px;line-height:20.0px;transform:scaleX(0.72);">135</div>
<div class="t" id="r229" style="left:1166.00px;top:321.07px;font-size:20.0px;line-height:20.0px;transform:scaleX(0.72);">"</div>
<div class="t" id="r230" style="left:619.27px;top:346.42px;font-size:19.0px;line-height:19.0px;transform:scaleX(0.7317);font-weight:bold;">Bande du Col</div>
<div class="t" id="r231" style="left:768.00px;top:346.27px;font-size:20.0px;line-height:20.0px;transform:scaleX(0.72);">35.5</div>
<div class="t" id="r232" style="left:808.10px;top:346.27px;font-size:20.0px;line-height:20.0px;transform:scaleX(0.72);">37</div>
<div class="t" id="r233" style="left:848.20px;top:346.27px;font-size:20.0px;line-height:20.0px;transform:scaleX(0.72);">38</div>
<div class="t" id="r234" style="left:888.30px;top:346.27px;font-size:20.0px;line-height:20.0px;transform:scaleX(0.72);">39.5</div>
<div class="t" id="r235" style="left:928.40px;top:346.27px;font-size:20.0px;line-height:20.0px;transform:scaleX(0.72);">40.5</div>
<div class="t" id="r236" style="left:968.50px;top:346.27px;font-size:20.0px;line-height:20.0px;transform:scaleX(0.72);">42</div>
<div class="t" id="r237" style="left:1008.60px;top:346.27px;font-size:20.0px;line-height:20.0px;transform:scaleX(0.72);">43</div>
<div class="t" id="r238" style="left:1048.70px;top:346.27px;font-size:20.0px;line-height:20.0px;transform:scaleX(0.72);">44.5</div>
<div class="t" id="r239" style="left:1088.80px;top:346.27px;font-size:20.0px;line-height:20.0px;transform:scaleX(0.72);">45.5</div>
<div class="t" id="r240" style="left:1128.90px;top:346.27px;font-size:20.0px;line-height:20.0px;transform:scaleX(0.72);">47</div>
<div class="t" id="r241" style="left:1166.00px;top:346.27px;font-size:20.0px;line-height:20.0px;transform:scaleX(0.72);">"</div>
<div class="l" style="left:619px;top:369.40px;width:573px;height:1.6px;background:#333"></div>
<div class="t" id="r242" style="left:619.50px;top:375.27px;font-size:20.0px;line-height:20.0px;transform:scaleX(0.73);-webkit-text-stroke:0.6px currentColor;">Jean</div>
<div class="t" id="r243" style="left:697.01px;top:375.27px;font-size:20.0px;line-height:20.0px;transform:scaleX(0.7923);">115cm*</div>
<div class="t" id="r244" style="left:768.00px;top:375.97px;font-size:20.0px;line-height:20.0px;transform:scaleX(0.72);">2.3</div>
<div class="t" id="r245" style="left:808.10px;top:375.97px;font-size:20.0px;line-height:20.0px;transform:scaleX(0.72);">2.3</div>
<div class="t" id="r246" style="left:848.20px;top:375.97px;font-size:20.0px;line-height:20.0px;transform:scaleX(0.72);">2.4</div>
<div class="t" id="r247" style="left:888.30px;top:375.97px;font-size:20.0px;line-height:20.0px;transform:scaleX(0.72);">2.4</div>
<div class="t" id="r248" style="left:928.40px;top:375.97px;font-size:20.0px;line-height:20.0px;transform:scaleX(0.72);">2.5</div>
<div class="t" id="r249" style="left:968.50px;top:375.97px;font-size:20.0px;line-height:20.0px;transform:scaleX(0.72);">2.5</div>
<div class="t" id="r250" style="left:1008.60px;top:375.97px;font-size:20.0px;line-height:20.0px;transform:scaleX(0.72);">2.7</div>
<div class="t" id="r251" style="left:1048.70px;top:375.97px;font-size:20.0px;line-height:20.0px;transform:scaleX(0.72);">2.7</div>
<div class="t" id="r252" style="left:1088.80px;top:375.97px;font-size:20.0px;line-height:20.0px;transform:scaleX(0.72);">2.7</div>
<div class="t" id="r253" style="left:1128.90px;top:375.97px;font-size:20.0px;line-height:20.0px;transform:scaleX(0.72);">2.7</div>
<div class="t" id="r254" style="left:1162.70px;top:375.97px;font-size:20.0px;line-height:20.0px;transform:scaleX(0.72);">m</div>
<div class="t" id="r255" style="left:697.43px;top:401.07px;font-size:20.0px;line-height:20.0px;transform:scaleX(0.7727);">150cm*</div>
<div class="t" id="r256" style="left:768.00px;top:401.77px;font-size:20.0px;line-height:20.0px;transform:scaleX(0.72);">1.6</div>
<div class="t" id="r257" style="left:808.10px;top:401.77px;font-size:20.0px;line-height:20.0px;transform:scaleX(0.72);">1.7</div>
<div class="t" id="r258" style="left:848.20px;top:401.77px;font-size:20.0px;line-height:20.0px;transform:scaleX(0.72);">1.9</div>
<div class="t" id="r259" style="left:888.30px;top:401.77px;font-size:20.0px;line-height:20.0px;transform:scaleX(0.72);">1.9</div>
<div class="t" id="r260" style="left:928.40px;top:401.77px;font-size:20.0px;line-height:20.0px;transform:scaleX(0.72);">2.1</div>
<div class="t" id="r261" style="left:968.50px;top:401.77px;font-size:20.0px;line-height:20.0px;transform:scaleX(0.72);">2.2</div>
<div class="t" id="r262" style="left:1008.60px;top:401.77px;font-size:20.0px;line-height:20.0px;transform:scaleX(0.72);">2.4</div>
<div class="t" id="r263" style="left:1048.70px;top:401.77px;font-size:20.0px;line-height:20.0px;transform:scaleX(0.72);">2.4</div>
<div class="t" id="r264" style="left:1088.80px;top:401.77px;font-size:20.0px;line-height:20.0px;transform:scaleX(0.72);">2.4</div>
<div class="t" id="r265" style="left:1128.90px;top:401.77px;font-size:20.0px;line-height:20.0px;transform:scaleX(0.72);">2.5</div>
<div class="t" id="r266" style="left:1166.00px;top:401.77px;font-size:20.0px;line-height:20.0px;transform:scaleX(0.72);">"</div>
<div class="t" id="r267" style="left:619.24px;top:427.92px;font-size:19.0px;line-height:19.0px;transform:scaleX(0.7621);-webkit-text-stroke:0.6px currentColor;letter-spacing:0.5px;">Entoilage -</div>
<div class="t" id="r268" style="left:697.05px;top:427.92px;font-size:19.0px;line-height:19.0px;transform:scaleX(0.7518);letter-spacing:0.6px;">51cm - 0.8m</div>
<div class="l" style="left:619px;top:450.20px;width:573px;height:1.6px;background:#333"></div>
<div class="t" id="r269" style="left:619.36px;top:460.02px;font-size:19.0px;line-height:19.0px;transform:scaleX(0.6367);font-weight:bold;letter-spacing:1px;-webkit-text-stroke:0.25px currentColor;">MESURES DES VÉTEMENTS FINI</div>
<div class="t" id="r270" style="left:831.57px;top:460.02px;font-size:19.0px;line-height:19.0px;transform:scaleX(0.7276);font-weight:bold;letter-spacing:0.5px;">(Motif et aisance de port compris)</div>
<div class="t" id="r271" style="left:620.00px;top:485.52px;font-size:19.0px;line-height:19.0px;transform:scaleX(0.7511);font-weight:bold;">Taille</div>
<div class="t" id="r272" style="left:768.00px;top:485.37px;font-size:20.0px;line-height:20.0px;transform:scaleX(0.72);">81</div>
<div class="t" id="r273" style="left:808.10px;top:485.37px;font-size:20.0px;line-height:20.0px;transform:scaleX(0.72);">86</div>
<div class="t" id="r274" style="left:848.20px;top:485.37px;font-size:20.0px;line-height:20.0px;transform:scaleX(0.72);">91</div>
<div class="t" id="r275" style="left:888.30px;top:485.37px;font-size:20.0px;line-height:20.0px;transform:scaleX(0.72);">97</div>
<div class="t" id="r276" style="left:928.40px;top:485.37px;font-size:20.0px;line-height:20.0px;transform:scaleX(0.72);">102</div>
<div class="t" id="r277" style="left:968.50px;top:485.37px;font-size:20.0px;line-height:20.0px;transform:scaleX(0.72);">107</div>
<div class="t" id="r278" style="left:1008.60px;top:485.37px;font-size:20.0px;line-height:20.0px;transform:scaleX(0.72);">112</div>
<div class="t" id="r279" style="left:1048.70px;top:485.37px;font-size:20.0px;line-height:20.0px;transform:scaleX(0.72);">117</div>
<div class="t" id="r280" style="left:1088.80px;top:485.37px;font-size:20.0px;line-height:20.0px;transform:scaleX(0.72);">122</div>
<div class="t" id="r281" style="left:1128.90px;top:485.37px;font-size:20.0px;line-height:20.0px;transform:scaleX(0.72);">127</div>
<div class="t" id="r282" style="left:1157.50px;top:485.37px;font-size:20.0px;line-height:20.0px;transform:scaleX(0.72);">cm</div>
<div class="t" id="r283" style="left:619.26px;top:511.42px;font-size:19.0px;line-height:19.0px;transform:scaleX(0.7359);font-weight:bold;">Hanches</div>
<div class="t" id="r284" style="left:768.00px;top:511.27px;font-size:20.0px;line-height:20.0px;transform:scaleX(0.72);">99</div>
<div class="t" id="r285" style="left:808.10px;top:511.27px;font-size:20.0px;line-height:20.0px;transform:scaleX(0.72);">104</div>
<div class="t" id="r286" style="left:848.20px;top:511.27px;font-size:20.0px;line-height:20.0px;transform:scaleX(0.72);">109</div>
<div class="t" id="r287" style="left:888.30px;top:511.27px;font-size:20.0px;line-height:20.0px;transform:scaleX(0.72);">114</div>
<div class="t" id="r288" style="left:928.40px;top:511.27px;font-size:20.0px;line-height:20.0px;transform:scaleX(0.72);">119</div>
<div class="t" id="r289" style="left:968.50px;top:511.27px;font-size:20.0px;line-height:20.0px;transform:scaleX(0.72);">124</div>
<div class="t" id="r290" style="left:1008.60px;top:511.27px;font-size:20.0px;line-height:20.0px;transform:scaleX(0.72);">130</div>
<div class="t" id="r291" style="left:1048.70px;top:511.27px;font-size:20.0px;line-height:20.0px;transform:scaleX(0.72);">135</div>
<div class="t" id="r292" style="left:1088.80px;top:511.27px;font-size:20.0px;line-height:20.0px;transform:scaleX(0.72);">140</div>
<div class="t" id="r293" style="left:1128.90px;top:511.27px;font-size:20.0px;line-height:20.0px;transform:scaleX(0.72);">145</div>
<div class="t" id="r294" style="left:1166.00px;top:511.27px;font-size:20.0px;line-height:20.0px;transform:scaleX(0.72);">"</div>
<div class="t" id="r295" style="left:619.25px;top:536.92px;font-size:19.0px;line-height:19.0px;transform:scaleX(0.7544);font-weight:bold;">Largeur, chaque jambe</div>
<div class="t" id="r296" style="left:619.50px;top:562.07px;font-size:20.0px;line-height:20.0px;transform:scaleX(0.73);font-weight:bold;">Jean</div>
<div class="t" id="r297" style="left:768.00px;top:562.77px;font-size:20.0px;line-height:20.0px;transform:scaleX(0.72);">98</div>
<div class="t" id="r298" style="left:808.10px;top:562.77px;font-size:20.0px;line-height:20.0px;transform:scaleX(0.72);">99</div>
<div class="t" id="r299" style="left:848.20px;top:562.77px;font-size:20.0px;line-height:20.0px;transform:scaleX(0.72);">100</div>
<div class="t" id="r300" style="left:888.30px;top:562.77px;font-size:20.0px;line-height:20.0px;transform:scaleX(0.72);">102</div>
<div class="t" id="r301" style="left:928.40px;top:562.77px;font-size:20.0px;line-height:20.0px;transform:scaleX(0.72);">103</div>
<div class="t" id="r302" style="left:968.50px;top:562.77px;font-size:20.0px;line-height:20.0px;transform:scaleX(0.72);">104</div>
<div class="t" id="r303" style="left:1008.60px;top:562.77px;font-size:20.0px;line-height:20.0px;transform:scaleX(0.72);">105</div>
<div class="t" id="r304" style="left:1048.70px;top:562.77px;font-size:20.0px;line-height:20.0px;transform:scaleX(0.72);">107</div>
<div class="t" id="r305" style="left:1088.80px;top:562.77px;font-size:20.0px;line-height:20.0px;transform:scaleX(0.72);">108</div>
<div class="t" id="r306" style="left:1128.90px;top:562.77px;font-size:20.0px;line-height:20.0px;transform:scaleX(0.72);">109</div>
<div class="t" id="r307" style="left:1157.50px;top:562.77px;font-size:20.0px;line-height:20.0px;transform:scaleX(0.72);">cm</div>
<div class="t" id="r308" style="left:619.23px;top:587.92px;font-size:19.0px;line-height:19.0px;transform:scaleX(0.7726);font-weight:bold;">Longueur finie – côté, taille à l’ourlet</div>
<div class="t" id="r309" style="left:619.50px;top:613.07px;font-size:20.0px;line-height:20.0px;transform:scaleX(0.73);font-weight:bold;">Jean</div>
<div class="t" id="r310" style="left:768.00px;top:613.77px;font-size:20.0px;line-height:20.0px;transform:scaleX(0.72);">41</div>
<div class="t" id="r311" style="left:808.10px;top:613.77px;font-size:20.0px;line-height:20.0px;transform:scaleX(0.72);">41</div>
<div class="t" id="r312" style="left:848.20px;top:613.77px;font-size:20.0px;line-height:20.0px;transform:scaleX(0.72);">42</div>
<div class="t" id="r313" style="left:888.30px;top:613.77px;font-size:20.0px;line-height:20.0px;transform:scaleX(0.72);">43</div>
<div class="t" id="r314" style="left:928.40px;top:613.77px;font-size:20.0px;line-height:20.0px;transform:scaleX(0.72);">43</div>
<div class="t" id="r315" style="left:968.50px;top:613.77px;font-size:20.0px;line-height:20.0px;transform:scaleX(0.72);">44</div>
<div class="t" id="r316" style="left:1008.60px;top:613.77px;font-size:20.0px;line-height:20.0px;transform:scaleX(0.72);">44</div>
<div class="t" id="r317" style="left:1048.70px;top:613.77px;font-size:20.0px;line-height:20.0px;transform:scaleX(0.72);">45</div>
<div class="t" id="r318" style="left:1088.80px;top:613.77px;font-size:20.0px;line-height:20.0px;transform:scaleX(0.72);">46</div>
<div class="t" id="r319" style="left:1128.90px;top:613.77px;font-size:20.0px;line-height:20.0px;transform:scaleX(0.72);">46</div>
<div class="t" id="r320" style="left:1157.50px;top:613.77px;font-size:20.0px;line-height:20.0px;transform:scaleX(0.72);">cm</div>
<div class="l" style="left:619px;top:670.20px;width:573px;height:1.6px;background:#333"></div>
<div class="t" id="r321" style="left:619.13px;top:675.15px;font-size:14px;line-height:14px;transform:scaleX(0.8713);color:#3a3a3a;">*avec sens &nbsp;&nbsp;&nbsp;**sans sens</div>
<div class="t" id="r322" style="left:17.33px;top:-1.13px;font-size:41.5px;line-height:41.5px;transform:scaleX(0.9678);font-weight:bold;">S3020</div>
<div class="t" id="r323" style="left:553.97px;top:14.51px;font-size:23.5px;line-height:23.5px;transform:scaleX(0.6673);letter-spacing:0.5px;">Easy</div>
<div class="t" id="r324" style="left:1145.35px;top:14.51px;font-size:23.5px;line-height:23.5px;transform:scaleX(0.7274);letter-spacing:0.5px;">Facile</div>
<svg width="130" height="240" viewBox="1230 225 130 240" style="position:absolute;left:1230px;top:225px">
<g fill="none" stroke="#505050" stroke-width="1.1" stroke-linejoin="round">
<path d="M1253.2 238.3 L1335.3 238.3"/>
<path d="M1253.4 246.7 L1335 246.7"/>
<path d="M1253.2 238.3 C1251 268 1246.5 305 1246 335 L1245.5 450.3 L1284.5 450.3 L1290.7 326.8"/>
<path d="M1335.3 238.3 C1337.5 268 1342 305 1342.6 335 L1342.8 450.3 L1303.6 450.3 L1295.8 326.8"/>
<path d="M1253.4 251 L1292.9 262.8 L1333.8 251"/>
<path d="M1253.6 253.3 L1292.9 265 L1333.6 253.3" stroke-width="0.6" stroke="#888"/>
<path d="M1292.9 238.3 L1292.9 326.8"/>
<path d="M1294 262 L1294 326.8" stroke-width="0.5" stroke="#aaa"/>
<path d="M1252.7 292.6 Q1260 326 1292.9 326.8 Q1328 326 1336.8 289.6"/>
<path d="M1272.8 296.3 Q1292.9 301 1313 296.3" stroke="#777"/>
<path d="M1271 310 L1280 322 M1311 322 L1320 311" stroke="#aaa" stroke-width="0.8"/>
<path d="M1255 239 L1255 252 L1260 252 L1260 239 M1291.5 239 L1291.5 252 M1294.5 239 L1294.5 252 M1328 239 L1328 252 L1333 252 L1333 239" stroke-width="0.9"/>
<path d="M1245.8 447.3 L1284.6 447.3 M1303.9 447.3 L1342.6 447.3" stroke="#999" stroke-width="0.8"/>
<path d="M1287.9 400 L1291.3 446.3 L1284.6 448.6" stroke-width="0.9"/>
<path d="M1250.5 255 L1249.5 275 M1338 255 L1339 275" stroke="#aaa" stroke-width="0.7"/>
</g></svg>
</div></body></html>
